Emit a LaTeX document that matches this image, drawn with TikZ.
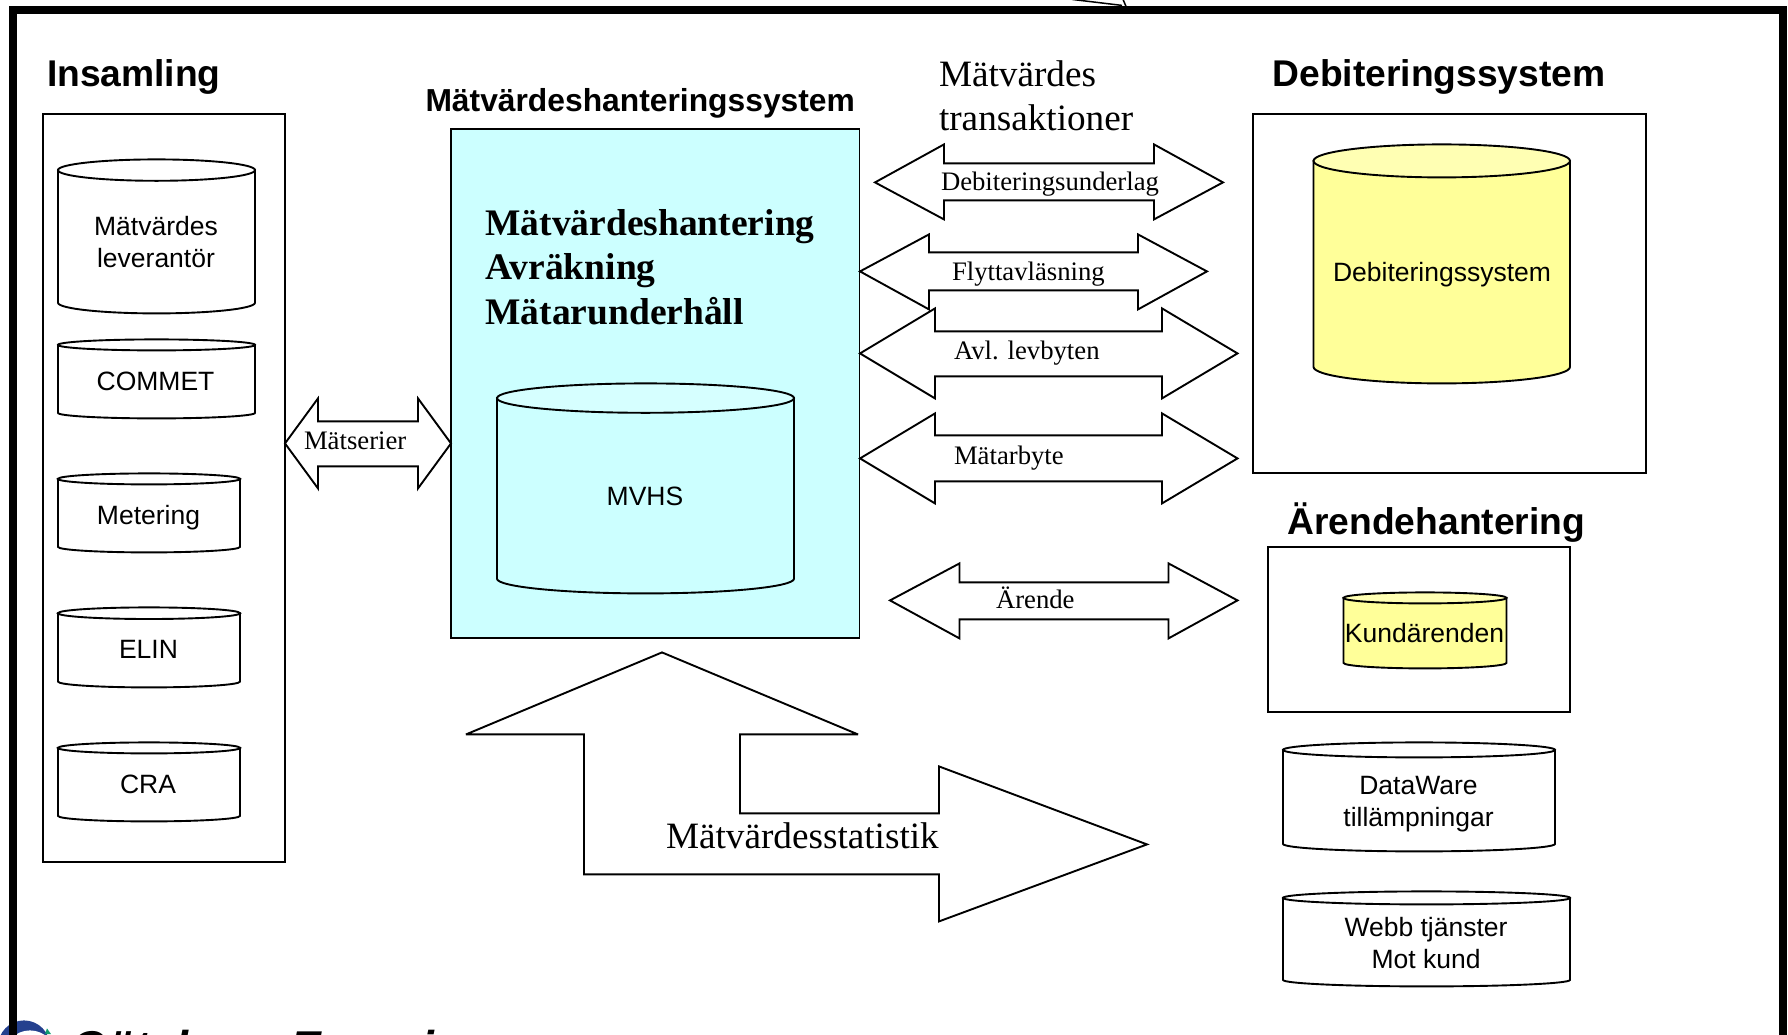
\documentclass[tikz,border=0pt]{standalone}
\usepackage{fontspec}
\setmainfont{Liberation Serif}
\setsansfont{Liberation Sans}
\definecolor{paleblue}{HTML}{CCFFFF}
\definecolor{paleblue2}{HTML}{D6FFFF}
\definecolor{paleyellow}{HTML}{FFFF99}
\definecolor{paleyellow2}{HTML}{FFFFB3}
\definecolor{logoblue}{HTML}{24408E}
\definecolor{logogreen}{HTML}{0F9D6E}
\newcommand\cylinderbox[8]{% name,x1,y1,x2,y2,ry,body,cap
  \pgfmathsetmacro\cxx{(#2+#4)/2}
  \pgfmathsetmacro\rxx{(#4-#2)/2}
  \pgfmathsetmacro\kx{0.5523*\rxx}
  \pgfmathsetmacro\ky{0.5523*#6}
  \pgfmathsetmacro\ytc{#3+#6}
  \pgfmathsetmacro\ybc{#5-#6}
  \path[linework,fill=#7] (#2,\ytc) -- (#2,\ybc)
    .. controls (#2,\ybc+\ky) and (\cxx-\kx,#5) .. (\cxx,#5)
    .. controls (\cxx+\kx,#5) and (#4,\ybc+\ky) .. (#4,\ybc)
    -- (#4,\ytc) -- cycle;
  \path[linework,fill=#8] (#2,\ytc)
    .. controls (#2,\ytc-\ky) and (\cxx-\kx,#3) .. (\cxx,#3)
    .. controls (\cxx+\kx,#3) and (#4,\ytc-\ky) .. (#4,\ytc)
    .. controls (#4,\ytc+\ky) and (\cxx+\kx,\ytc+#6) .. (\cxx,\ytc+#6)
    .. controls (\cxx-\kx,\ytc+#6) and (#2,\ytc+\ky) .. (#2,\ytc) -- cycle;
  \coordinate (#1) at (\cxx,\ytc);
}
\newcommand\doublearrow[9]{% name,xtip,xn1,xn2,xtip2,ytop,yshaft1,ymid,yshaft2 ; bottom given by \ybot
  \path[linework,fill=white] (#2,#8) -- (#3,#6) -- (#3,#7) -- (#4,#7) -- (#4,#6) -- (#5,#8)
    -- (#4,\ybot) -- (#4,#9) -- (#3,#9) -- (#3,\ybot) -- cycle;
  \coordinate (#1) at (#2,#8);
}
\tikzset{
  x=1pt,y=-1pt,
  linework/.style={draw=black,line width=1.9pt,line join=miter,miter limit=4},
  inner/.style={inner sep=0pt,outer sep=0pt},
  head/.style={inner,anchor=base west,font=\sffamily\bfseries\fontsize{37.2}{44}\selectfont},
  subhead/.style={inner,anchor=base west,font=\sffamily\bfseries\fontsize{31.8}{38}\selectfont},
  cyltext/.style={inner,anchor=base,align=center,font=\sffamily\fontsize{26.5}{32}\selectfont},
  arrowtext/.style={inner,anchor=base west,font=\rmfamily\fontsize{26.7}{32}\selectfont},
  bigtext/.style={inner,anchor=base west,align=left,font=\rmfamily\fontsize{37.2}{44}\selectfont},
  bigbold/.style={inner,anchor=base west,align=left,font=\rmfamily\bfseries\fontsize{37.5}{44.5}\selectfont},
  logotext/.style={inner,anchor=base west,font=\sffamily\bfseries\itshape\fontsize{46}{50}\selectfont},
}
\begin{document}
\begin{tikzpicture}
\useasboundingbox (0,-0.4) rectangle (1788,1033.6);
\clip (0,-0.4) rectangle (1788,1033.6);
% logo fragment
\fill[logoblue] (24,1046) circle[radius=26];
\fill[white] (30,1056) circle[radius=26];
\fill[logogreen] (45,1033.6) -- (47,1028) -- (51,1033.6) -- cycle;
\node[logotext] (logo) at (71,1063) {Göteborg Energi};
% outer frame
\draw[line width=8pt,line join=miter] (13,1040) -- (13,9.8) -- (1783,9.8) -- (1783,1040);
\coordinate (fragA) at (1072,-1);
\coordinate (fragB) at (1122,5);
\coordinate (fragC) at (1123,-1);
\coordinate (fragD) at (1126,6);
\draw[line width=1.5pt] (fragA) -- (fragB) (fragC) -- (fragD);
% boxes
\path[linework] (43,114) rectangle (285,862);
\path[linework,fill=paleblue] (451,129) rectangle (859.5,638);
\path[linework] (1253,114) rectangle (1646,473);
\path[linework] (1268,547) rectangle (1570,712);
% cylinders
\cylinderbox{mvl}{58}{159}{255}{313}{10.7}{white}{white}
\cylinderbox{commet}{58}{339}{255}{418}{5.5}{white}{white}
\cylinderbox{metering}{58}{473}{240}{552}{5.5}{white}{white}
\cylinderbox{elin}{58}{607}{240}{687}{5.8}{white}{white}
\cylinderbox{cra}{58}{742}{240}{821}{5.5}{white}{white}
\cylinderbox{mvhs}{497}{383}{794}{593}{14.7}{paleblue}{paleblue2}
\cylinderbox{debcyl}{1313.5}{144}{1570}{383}{16.5}{paleyellow}{paleyellow2}
\cylinderbox{kund}{1343.5}{592}{1506.5}{668}{5.5}{paleyellow}{paleyellow2}
\cylinderbox{dw}{1283}{742}{1555}{851}{7.5}{white}{white}
\cylinderbox{webb}{1283}{891}{1570}{986}{6.5}{white}{white}
% double arrows
\def\ybot{488}\doublearrow{aMs}{285}{318}{418}{451}{398}{421}{443}{466}
\def\ybot{219}\doublearrow{aDeb}{875}{944}{1154}{1223}{144}{163}{182}{200}
\def\ybot{309}\doublearrow{aFly}{860}{929}{1138}{1207}{234}{252}{271}{290}
\def\ybot{398}\doublearrow{aAvl}{860}{935}{1162}{1237.5}{308}{331}{353}{376}
\def\ybot{503}\doublearrow{aMb}{860}{935}{1162}{1237.5}{413}{435}{458}{481}
\def\ybot{638}\doublearrow{aAr}{890}{959.5}{1168.5}{1237.5}{563}{582}{600}{619}
% big bent arrow
\path[linework,fill=white] (662,652) -- (858,734) -- (740,734) -- (740,813) -- (939,813) -- (939,766)
  -- (1147,844) -- (939,921) -- (939,874) -- (584,874) -- (584,734) -- (466,734) -- cycle;
% headings
\node[head] (tIns) at (47,86.5) {Insamling};
\node[subhead] (tMvs) at (425.5,111.5) {Mätvärdeshanteringssystem};
\node[head] (tDeb) at (1272.5,86) {Debiteringssystem};
\node[head] (tAre) at (1287.5,534.5) {Ärendehantering};
% big text
\node[bigbold] (tMain) at (485.5,324) {Mätvärdeshantering\\Avräkning\\Mätarunderhåll};
\node[bigtext] (tTrans) at (939,130) {Mätvärdes\\transaktioner};
\node[bigtext] (tStat) at (666,848) {Mätvärdesstatistik};
% arrow labels
\node[arrowtext] (lMs) at (304,449.5) {Mätserier};
\node[arrowtext] (lDeb) at (941,190.5) {Debiteringsunderlag};
\node[arrowtext] (lFly) at (952,280.5) {Flyttavläsning};
\node[arrowtext] (lAvl) at (954,359.5) {Avl. levbyten};
\node[arrowtext] (lMb) at (954,464) {Mätarbyte};
\node[arrowtext] (lAr) at (996,608.5) {Ärende};
% cylinder labels
\node[cyltext] (cMvl) at (156,267.5) {Mätvärdes\\leverantör};
\node[cyltext] (cCom) at (155.5,390.5) {COMMET};
\node[cyltext] (cMet) at (148.5,524.5) {Metering};
\node[cyltext] (cEli) at (148.5,658.5) {ELIN};
\node[cyltext] (cCra) at (148,793.5) {CRA};
\node[cyltext] (cMvh) at (645,505.5) {MVHS};
\node[cyltext] (cDeb) at (1442,281) {Debiteringssystem};
\node[cyltext] (cKun) at (1424.5,642.5) {Kundärenden};
\node[cyltext] (cDw) at (1418.5,826) {DataWare\\tillämpningar};
\node[cyltext] (cWeb) at (1426,968) {Webb tjänster\\Mot kund};
\end{tikzpicture}
\end{document}
